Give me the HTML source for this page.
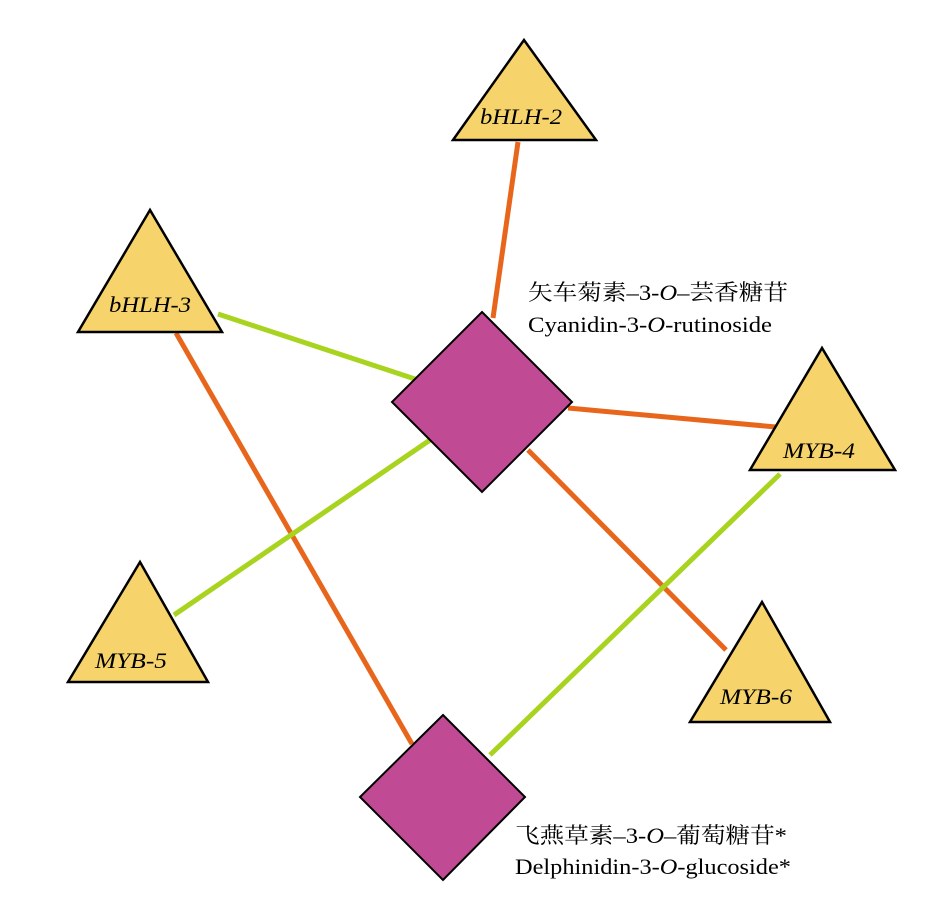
<!DOCTYPE html>
<html><head><meta charset="utf-8"><style>
html,body{margin:0;padding:0;background:#fff;}
svg{display:block;}
text{font-family:"Liberation Serif","Noto Serif CJK SC",serif;fill:#000;}
</style></head><body>
<svg width="929" height="917" viewBox="0 0 929 917" xmlns="http://www.w3.org/2000/svg">
<g stroke-width="5" stroke-linecap="butt">
<line x1="518" y1="142" x2="493" y2="318" stroke="#e8661c"/>
<line x1="218" y1="314" x2="418" y2="380" stroke="#a8d420"/>
<line x1="176" y1="333" x2="412" y2="744" stroke="#e8661c"/>
<line x1="568" y1="408" x2="776" y2="427" stroke="#e8661c"/>
<line x1="430" y1="440" x2="174" y2="615" stroke="#a8d420"/>
<line x1="528" y1="450" x2="726" y2="650" stroke="#e8661c"/>
<line x1="780" y1="474" x2="490" y2="755" stroke="#a8d420"/>
</g>
<g fill="#f7d46b" stroke="#000" stroke-width="2.5">
<polygon points="524,40 453,140 596,140"/>
<polygon points="150,210 78,332 222,332"/>
<polygon points="822,348 750,470 895,470"/>
<polygon points="140,562 68,682 208,682"/>
<polygon points="762,602 690,722 830,722"/>
</g>
<g fill="#c04a93" stroke="#000" stroke-width="2">
<polygon points="482,312 572,402 482,492 392,402"/>
<polygon points="443,715 525,797 443,880 360,797"/>
</g>
<g font-style="italic" font-size="22">
<text x="480" y="124" textLength="82" lengthAdjust="spacingAndGlyphs">bHLH-2</text>
<text x="109" y="312" textLength="82" lengthAdjust="spacingAndGlyphs">bHLH-3</text>
<text x="783" y="458" textLength="72" lengthAdjust="spacingAndGlyphs">MYB-4</text>
<text x="95" y="668" textLength="72" lengthAdjust="spacingAndGlyphs">MYB-5</text>
<text x="720" y="704" textLength="72" lengthAdjust="spacingAndGlyphs">MYB-6</text>
</g>
<g font-size="22">
<text x="528" y="300" textLength="260" lengthAdjust="spacingAndGlyphs">矢车菊素–3-<tspan font-style="italic">O</tspan>–芸香糖苷</text>
<text x="528" y="332" textLength="244" lengthAdjust="spacingAndGlyphs">Cyanidin-3-<tspan font-style="italic">O</tspan>-rutinoside</text>
<text x="515" y="843" textLength="272" lengthAdjust="spacingAndGlyphs">飞燕草素–3-<tspan font-style="italic">O</tspan>–葡萄糖苷*</text>
<text x="515" y="874" textLength="276" lengthAdjust="spacingAndGlyphs">Delphinidin-3-<tspan font-style="italic">O</tspan>-glucoside*</text>
</g>
</svg>
</body></html>
